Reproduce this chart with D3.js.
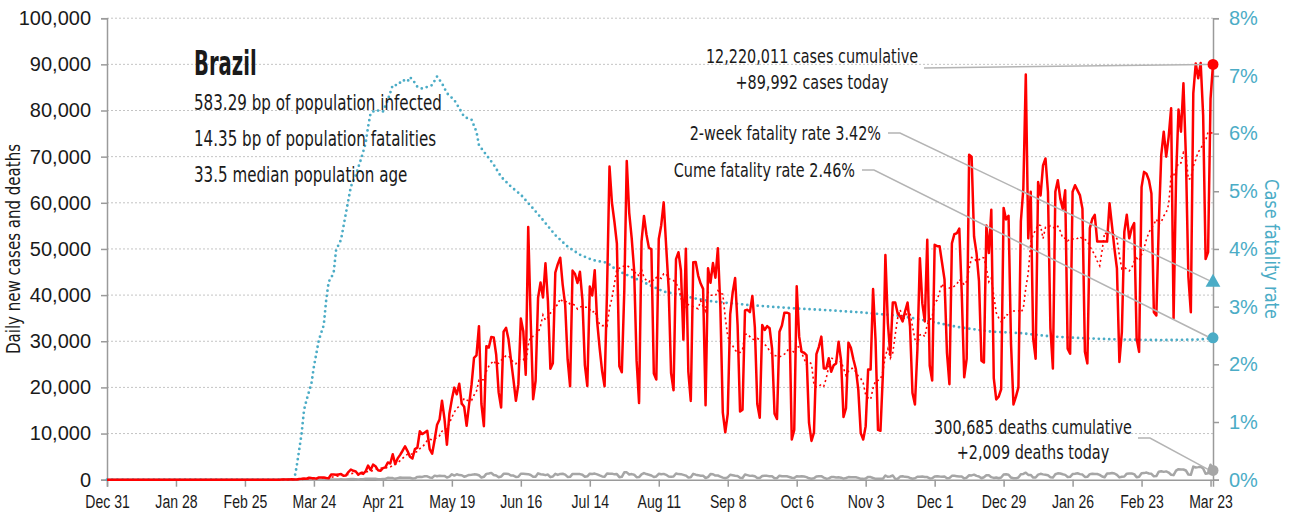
<!DOCTYPE html>
<html><head><meta charset="utf-8">
<script src="https://cdn.jsdelivr.net/npm/d3@7"></script>
<style>
body{margin:0;background:#fff;}
svg{display:block;font-family:"DejaVu Sans Condensed","Liberation Sans Narrow","Arial Narrow",sans-serif;}
</style></head><body>
<svg id="chart" width="1307" height="520"></svg>
<script>
// ---- data -------------------------------------------------------------
const startDate = "2019-12-31";

// Daily new cases, one row per week (Tue..Mon), from Dec 31 2019 to Mar 24 2021
const dailyCases = [
  0,0,0,0,0,0,0, 0,0,0,0,0,0,0, 0,0,0,0,0,0,0, 0,0,0,0,0,0,0,
  0,0,0,0,0,0,0, 0,0,0,0,0,0,0, 0,0,0,0,0,0,0, 0,0,0,0,0,0,0,
  0,1,0,0,1,0,0,
  0,1,4,5,5,6,6,
  9,18,25,21,23,79,34,
  57,137,193,283,224,418,345,
  310,232,482,502,487,352,323,
  1138,1119,1074,1146,1222,852,926,
  1661,2210,1930,1781,1089,1442,1261,
  1832,3058,2105,3257,2917,2055,1927,
  2498,2678,3735,3503,5514,3379,4613,
  5385,6276,7218,6209,4970,4588,6633,
  6935,10503,9888,10222,10611,6638,5632,
  8620,11923,13028,17126,13220,7569,14288,
  17408,19951,18508,20803,16508,15813,11687,
  16324,20599,26417,26928,33274,16409,11598,
  28936,28633,30925,30830,27075,18912,15654,
  32091,32913,30412,25982,21704,17110,20647,
  34918,32188,22765,54771,34666,17459,21432,
  39436,42725,39483,46907,38693,24052,25234,
  44884,46712,48105,42223,37923,26051,20229,
  45305,44571,42619,45048,39023,24831,20286,
  41857,39924,45403,34177,28532,23529,20257,
  41008,67860,59961,55891,51147,24578,23284,
  40816,69074,57837,52383,45392,25800,16641,
  51603,57152,53139,50230,49970,23010,21703,
  52160,55155,60091,50644,41576,23101,19373,
  47784,49298,45323,30355,50032,23421,17078,
  47134,47161,44235,42500,41350,16158,45800,
  42659,46934,43773,50163,37500,14521,10273,
  14279,35816,40557,43718,33523,14768,15155,
  36653,36820,36303,39797,33057,16389,13439,
  33536,32445,33281,32817,28378,14318,13155,
  32058,33413,36157,36200,36000,8700,10800,
  41900,31000,27700,27500,27000,12300,8400,
  10200,27200,28800,31000,24100,24100,26300,
  23400,24800,25200,29900,25900,13600,15500,
  29700,28600,26100,24000,19500,10100,8700,
  11600,23900,23900,41300,30300,10800,10600,
  23000,48700,34000,27000,38400,38400,36000,
  35400,34300,36500,38400,33200,18800,16300,
  28200,48000,38200,34300,52000,24700,21500,
  50900,50600,50600,47000,43400,27500,20700,
  51200,53200,53400,54400,40400,22200,26200,
  70400,70000,52700,49100,43000,25800,25400,
  55100,49100,58500,22000,17400,18000,19600,
  58900,56400,57200,29500,16300,18000,20000,
  56000,63000,87800,52300,62400,30600,26200,
  64500,61600,68100,69600,62400,32800,24100,
  62400,64900,60900,58700,62700,28400,27300,
  62400,63800,62700,61600,58700,27700,25200,
  54500,56500,57400,51600,51600,51600,51600,
  51600,59900,55000,50000,45800,25500,32000,
  53700,57400,52300,54500,55600,30600,27700,
  63400,66700,66300,64900,62000,36300,35600,
  55500,70400,75400,70000,74300,80500,35000,
  65200,80200,75400,85900,70000,44000,36300,
  83700,90200,87000,90300,79000,47800,49300,
  82500,89992
];

// Daily deaths, same calendar
const dailyDeaths = [
  0,0,0,0,0,0,0, 0,0,0,0,0,0,0, 0,0,0,0,0,0,0, 0,0,0,0,0,0,0,
  0,0,0,0,0,0,0, 0,0,0,0,0,0,0, 0,0,0,0,0,0,0, 0,0,0,0,0,0,0,
  0,0,0,0,0,0,0, 0,0,0,0,0,0,0, 0,0,0,0,0,0,0,
  1,3,3,4,7,7,9,
  12,11,20,15,22,22,23,
  42,40,58,60,73,54,67,
  114,133,141,115,68,99,105,
  204,204,188,217,206,115,113,
  166,165,407,357,346,189,338,
  474,449,435,428,421,275,296,
  600,615,610,751,730,496,396,
  881,749,844,824,816,485,674,
  1179,888,1188,1001,965,653,807,
  1039,1086,1156,1124,956,480,623,
  1262,1349,1473,1005,904,525,679,
  1272,1274,1239,909,892,612,627,
  1282,1269,1238,1206,1022,641,654,
  1374,1185,1141,990,1109,552,692,
  1280,1038,1252,1290,1091,602,620,
  1254,1223,1220,1214,1071,631,733,
  1300,1233,1322,1163,921,716,632,
  1367,1284,1311,1156,1211,555,627,
  1595,1592,1129,1212,1088,541,561,
  1154,1437,1226,1079,905,572,703,
  1274,1175,1262,1060,709,620,684,
  1352,1212,1204,1054,892,494,551,
  1271,1085,984,855,881,366,553,
  1215,1184,888,907,682,447,310,
  504,1075,983,874,814,415,381,
  1113,987,829,858,739,363,377,
  809,869,831,729,761,335,317,
  863,729,724,730,599,432,363,
  734,710,754,676,559,309,201,
  309,716,754,754,461,230,287,
  571,566,497,510,432,230,371,
  561,510,513,516,396,190,179,
  243,610,571,365,181,185,192,
  201,908,630,690,921,176,216,
  676,754,614,598,380,201,302,
  630,654,691,569,561,272,317,
  697,755,694,654,674,308,376,
  835,848,770,686,686,279,433,
  964,936,1092,825,709,314,530,
  968,963,552,384,484,314,465,
  1111,1194,1074,462,314,293,469,
  1171,1242,1524,1035,1041,469,483,
  1110,1274,1151,1060,968,551,452,
  1183,1382,1340,1171,1050,595,627,
  1214,1283,1386,1206,1119,595,621,
  1209,1308,1232,1239,1051,699,525,
  1350,1330,1452,1351,1045,495,647,
  693,1309,1367,1337,1212,527,639,
  1386,1428,1541,1337,1275,721,778,
  1726,1840,1699,1800,1555,1086,987,
  1972,2286,2233,2216,1997,1127,1057,
  2841,2648,2724,2815,2438,1290,1383,
  3251,2009
];

// Cumulative case fatality rate (%), by day offset from startDate
const cfrDay = [0,76,77,78,79,80,81,83,84,86,88,89,90,92,93,95,97,98,99,101,103,105,106,107,109,112,114,116,118,120,122,123,125,126,128,130,132,134,136,138,141,143,145,148,150,151,154,157,160,164,168,173,177,182,187,192,197,203,207,211,216,219,226,233,239,246,253,260,269,279,292,306,322,331,345,358,371,384,398,411,428,444,449];
const cfrPct = [0,0,0.23,0.51,0.8,1.21,1.38,1.67,1.96,2.42,2.68,3.12,3.43,3.58,3.98,4.16,4.62,4.85,5.08,5.28,5.54,5.83,6.12,6.35,6.41,6.38,6.58,6.84,6.84,6.93,6.9,6.98,6.88,6.81,6.78,6.81,6.84,6.99,6.87,6.7,6.58,6.44,6.29,6.24,6.03,5.8,5.63,5.46,5.25,5.08,4.94,4.7,4.5,4.24,4.04,3.9,3.81,3.76,3.63,3.55,3.46,3.4,3.26,3.2,3.14,3.09,3.06,3.03,3.0,2.97,2.94,2.9,2.84,2.77,2.65,2.57,2.54,2.48,2.45,2.43,2.42,2.43,2.46];

const tickDates = ["2019-12-31","2020-01-28","2020-02-25","2020-03-24","2020-04-21","2020-05-19","2020-06-16","2020-07-14","2020-08-11","2020-09-08","2020-10-06","2020-11-03","2020-12-01","2020-12-29","2021-01-26","2021-02-23","2021-03-23"];
const leftTicks = [0,10000,20000,30000,40000,50000,60000,70000,80000,90000,100000];
const rightTicks = [0,1,2,3,4,5,6,7,8];

const countryName = "Brazil";
const statLines = ["583.29 bp of population infected","14.35 bp of population fatalities","33.5 median population age"];
const casesNote = ["12,220,011 cases cumulative","+89,992 cases today"];
const deathsNote = ["300,685 deaths cumulative","+2,009 deaths today"];
const twoWeekRate = 3.42;
const cumeRate = 2.46;
const leftTitle = "Daily new cases and deaths";
const rightTitle = "Case fatality rate";

// ---- chart ------------------------------------------------------------
const RED = "#ff0000", BLUE = "#4bacc6", GREY = "#a6a6a6", AXIS = "#9a9a9a", INK = "#1a1a1a";
const svg = d3.select("#chart");
const xL = 107, xR = 1213, yT = 18.2, yB = 479.7;

const parse = d3.utcParse("%Y-%m-%d");
const t0 = parse(startDate);
const DAY = 864e5;
const dateAt = i => new Date(+t0 + i * DAY);
const nDays = dailyCases.length;

const x = d3.scaleUtc().domain([t0, dateAt(nDays - 1)]).range([xL, xR]);
const y = d3.scaleLinear().domain([0, 100000]).range([yB, yT]);
const y2 = d3.scaleLinear().domain([0, 8]).range([yB, yT]);

// gridlines
svg.append("g").selectAll("line").data(leftTicks.filter(d => d > 0)).join("line")
  .attr("x1", xL).attr("x2", xR).attr("y1", d => y(d)).attr("y2", d => y(d))
  .attr("stroke", "#c4c4c4").attr("stroke-width", 1).attr("stroke-dasharray", "2,2");

// axes
const gl = svg.append("g").attr("transform", `translate(${xL},0)`)
  .call(d3.axisLeft(y).tickValues(leftTicks).tickFormat(d3.format(",")).tickSize(6).tickPadding(10));
const gr = svg.append("g").attr("transform", `translate(${xR},0)`)
  .call(d3.axisRight(y2).tickValues(rightTicks).tickFormat(d => d + "%").tickSize(6).tickPadding(10));
const gb = svg.append("g").attr("transform", `translate(0,${yB})`)
  .call(d3.axisBottom(x).tickValues(tickDates.map(parse)).tickFormat(d3.utcFormat("%b %-d")).tickSize(7).tickPadding(8));

[gl, gr, gb].forEach(g => {
  g.selectAll(".domain, .tick line").attr("stroke", AXIS).attr("stroke-width", 1.5);
  g.selectAll("text").attr("font-family", null).attr("font-size", 20).attr("fill", INK);
});
gr.selectAll("text").attr("fill", BLUE);
gb.selectAll("text").attr("font-size", 19).attr("transform", "scale(0.74,1)");

svg.append("text").attr("transform", "translate(20,249) rotate(-90) scale(0.88,1)")
  .attr("text-anchor", "middle").attr("font-size", 19).attr("fill", INK).text(leftTitle);
svg.append("text").attr("transform", "translate(1265,249) rotate(90) scale(0.95,1)")
  .attr("text-anchor", "middle").attr("font-size", 19).attr("fill", BLUE).text(rightTitle);

// series
const rows = dailyCases.map((c, i) => ({
  date: dateAt(i), cases: c, deaths: dailyDeaths[i],
  avg: i >= 6 ? d3.mean(dailyCases.slice(i - 6, i + 1)) : null
}));

const plot = svg.append("g");
plot.append("path").datum(rows)
  .attr("fill", "none").attr("stroke", GREY).attr("stroke-width", 2.5).attr("stroke-linejoin", "round")
  .attr("d", d3.line().x(d => x(d.date)).y(d => y(d.deaths)));

plot.append("path").datum(cfrDay.map((d, i) => ({ date: dateAt(d), v: cfrPct[i] })))
  .attr("fill", "none").attr("stroke", BLUE).attr("stroke-width", 2.8)
  .attr("stroke-linecap", "round").attr("stroke-dasharray", "0,5.2")
  .attr("d", d3.line().x(d => x(d.date)).y(d => y2(d.v)));

plot.append("path").datum(rows.filter(d => d.avg !== null))
  .attr("fill", "none").attr("stroke", RED).attr("stroke-width", 1.6).attr("stroke-dasharray", "2,3")
  .attr("d", d3.line().x(d => x(d.date)).y(d => y(d.avg)));

plot.append("path").datum(rows)
  .attr("fill", "none").attr("stroke", RED).attr("stroke-width", 2.5).attr("stroke-linejoin", "round")
  .attr("d", d3.line().x(d => x(d.date)).y(d => y(d.cases)));

// end markers
const last = rows[rows.length - 1];
const xe = x(last.date);
svg.append("circle").attr("cx", xe).attr("cy", y(last.cases)).attr("r", 5.5).attr("fill", RED);
svg.append("circle").attr("cx", xe).attr("cy", y(last.deaths)).attr("r", 5.5).attr("fill", GREY);
svg.append("circle").attr("cx", xe).attr("cy", y2(cumeRate)).attr("r", 5.5).attr("fill", BLUE);
svg.append("path").attr("transform", `translate(${xe},${y2(twoWeekRate)})`)
  .attr("d", d3.symbol(d3.symbolTriangle, 95)()).attr("fill", BLUE);

// leader lines
const lead = pts => svg.append("polyline").attr("points", pts.map(p => p.join(",")).join(" "))
  .attr("fill", "none").attr("stroke", "#b4b4b4").attr("stroke-width", 1.5);
lead([[924, 68], [xe - 6, y(last.cases)]]);
lead([[888, 133], [900, 133], [xe - 4, y2(twoWeekRate) - 2]]);
lead([[862, 170], [874, 170], [xe - 5, y2(cumeRate) - 1]]);
lead([[1138, 438], [1150, 438], [xe - 5, y(last.deaths) - 1]]);

// text notes (condensed horizontally)
const label = (s, xx, yy, size, anchor, k, weight) => svg.append("g")
  .attr("transform", `translate(${xx},${yy})`)
  .append("text").attr("transform", `scale(${k},1)`)
  .attr("font-size", size).attr("text-anchor", anchor)
  .attr("font-weight", weight || "normal").attr("fill", INK).text(s);

label(countryName, 194, 75, 33, "start", 0.66, "bold");
statLines.forEach((s, i) => label(s, 194, 110 + i * 36, 20.5, "start", 0.82));
casesNote.forEach((s, i) => label(s, 812, 63 + i * 26, 20, "middle", 0.8));
label("2-week fatality rate " + twoWeekRate.toFixed(2) + "%", 881, 140, 20, "end", 0.8);
label("Cume fatality rate " + cumeRate.toFixed(2) + "%", 855, 177, 20, "end", 0.8);
deathsNote.forEach((s, i) => label(s, 1033, 434 + i * 25, 20, "middle", 0.8));
</script>
</body></html>
